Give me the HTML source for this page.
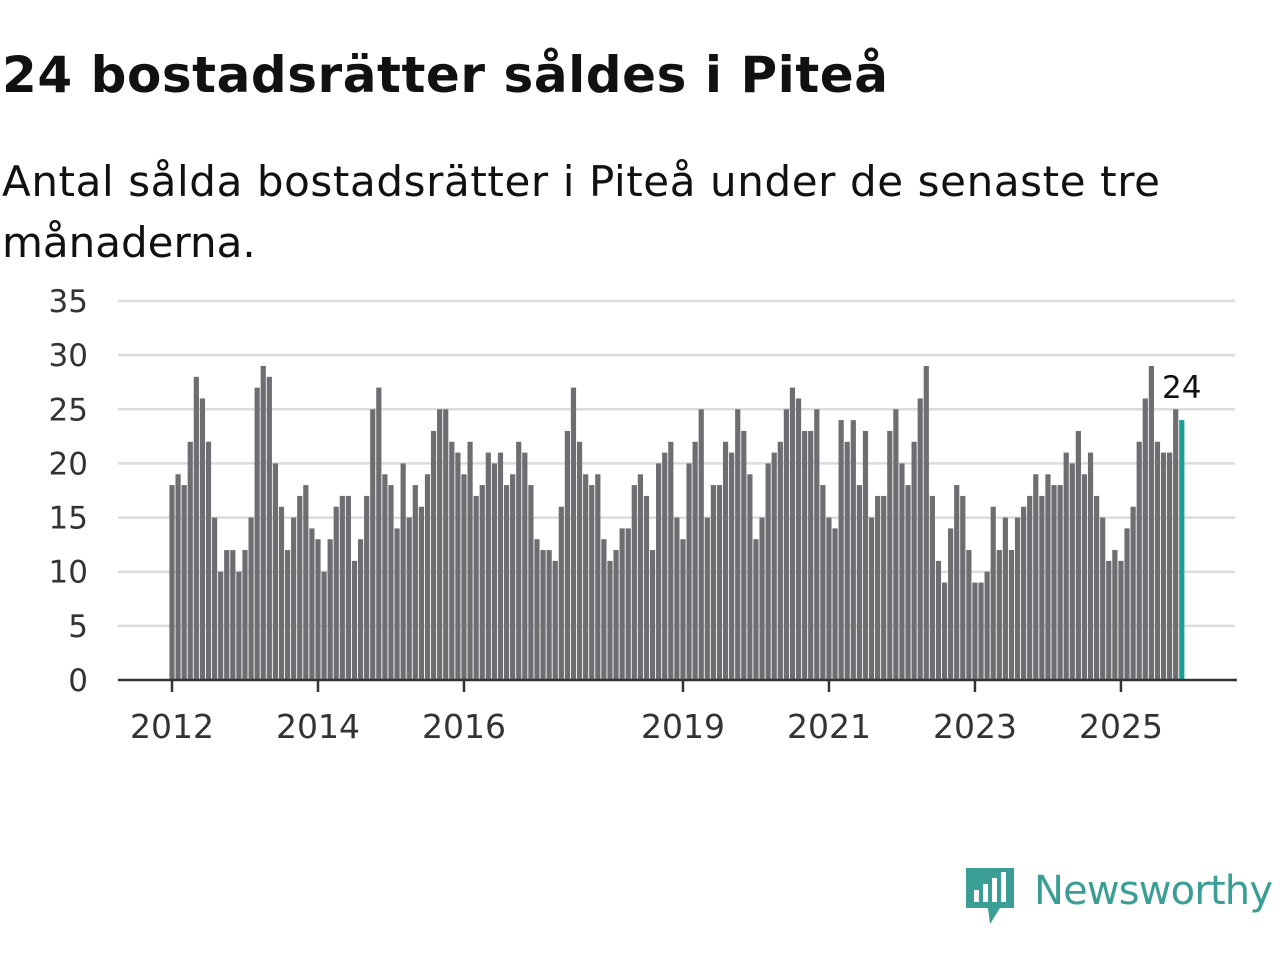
<!DOCTYPE html>
<html><head><meta charset="utf-8"><style>
body{margin:0;background:#fff;width:1280px;height:960px;overflow:hidden;font-family:"Liberation Sans","DejaVu Sans",sans-serif;}
</style></head><body>
<svg width="1280" height="960" xmlns="http://www.w3.org/2000/svg">
<text x="2" y="92" font-size="50" font-weight="bold" fill="#111" textLength="886" font-family="DejaVu Sans, sans-serif">24 bostadsrätter såldes i Piteå</text>
<text x="2" y="196" font-size="42" fill="#111" textLength="1158" font-family="DejaVu Sans, sans-serif">Antal sålda bostadsrätter i Piteå under de senaste tre</text>
<text x="2" y="257" font-size="42" fill="#111" font-family="DejaVu Sans, sans-serif">månaderna.</text>
<g id="grid"></g><g id="bars"></g><g id="axes"></g>
<g>
<path d="M966 868 h48 v40 l-14 0 l-10 16 l-2 -16 h-22 z" fill="#3a9e94"/>
<rect x="974" y="890" width="5" height="12" fill="#fff"/><rect x="983" y="884" width="5" height="18" fill="#fff"/><rect x="992" y="878" width="5" height="24" fill="#fff"/><rect x="1001" y="872" width="5" height="30" fill="#fff"/>
<text x="1034" y="904" font-size="40" fill="#3a9e94" textLength="1239" font-family="DejaVu Sans, sans-serif" style="display:none"></text>
<text x="1034" y="904" font-size="40" fill="#3a9e94" textLength="239" font-family="DejaVu Sans, sans-serif">Newsworthy</text>
</g>
</svg>
<script>
const years=["2012","2014","2016","2019","2021","2023","2025"];
const yearIdx=[0,24,48,84,108,132,156];
const yTicks=[0,5,10,15,20,25,30,35];
const values=[18,19,18,22,28,26,22,15,10,12,12,10,
12,15,27,29,28,20,16,12,15,17,18,14,
13,10,13,16,17,17,11,13,17,25,27,19,
18,14,20,15,18,16,19,23,25,25,22,21,
19,22,17,18,21,20,21,18,19,22,21,18,
13,12,12,11,16,23,27,22,19,18,19,13,
11,12,14,14,18,19,17,12,20,21,22,15,
13,20,22,25,15,18,18,22,21,25,23,19,
13,15,20,21,22,25,27,26,23,23,25,18,
15,14,24,22,24,18,23,15,17,17,23,25,
20,18,22,26,29,17,11,9,14,18,17,12,
9,9,10,16,12,15,12,15,16,17,19,17,
19,18,18,21,20,23,19,21,17,15,11,12,
11,14,16,22,26,29,22,21,21,25,24];
const NS="http://www.w3.org/2000/svg";
const y=v=>680-v*(379/35);
const x=i=>172+i*6.083;
function mk(t,a,p){const e=document.createElementNS(NS,t);for(const k in a)e.setAttribute(k,a[k]);p.appendChild(e);return e;}
const G=document.getElementById('grid'),B=document.getElementById('bars'),A=document.getElementById('axes');
yTicks.forEach(v=>{
 if(v>0){const l=mk('line',{x1:118,x2:1235,y1:y(v),y2:y(v),stroke:'#dcdcdc','stroke-width':2.5},G);
 
 }
 const t=mk('text',{x:88,y:y(v)+11,'font-size':31,'text-anchor':'end',fill:'#333','font-family':'DejaVu Sans, sans-serif'},A);t.textContent=v;
 
 
});
values.forEach((v,i)=>{
 const last=i===values.length-1;
 const r=mk('rect',{x:x(i)-2.6,y:y(v),width:5.2,height:680-y(v),fill:last?'#1a9e96':'#6e6d72'},B);
 
 
 if(last){const t=mk('text',{x:x(i),y:y(v)-22,'font-size':31,'text-anchor':'middle',fill:'#111','font-family':'DejaVu Sans, sans-serif'},A);t.textContent=v;
 
 }
});
const ax=mk('line',{x1:118,x2:1237,y1:680,y2:680,stroke:'#333','stroke-width':2.5},A);


years.forEach((yr,k)=>{
 const xi=x(yearIdx[k]);
 mk('line',{x1:xi,x2:xi,y1:680,y2:692,stroke:'#333','stroke-width':2.5},A);
 const t=mk('text',{x:xi,y:738,'font-size':33,'text-anchor':'middle',fill:'#333','font-family':'DejaVu Sans, sans-serif'},A);t.textContent=yr;
 
 
});
</script>
</body></html>
